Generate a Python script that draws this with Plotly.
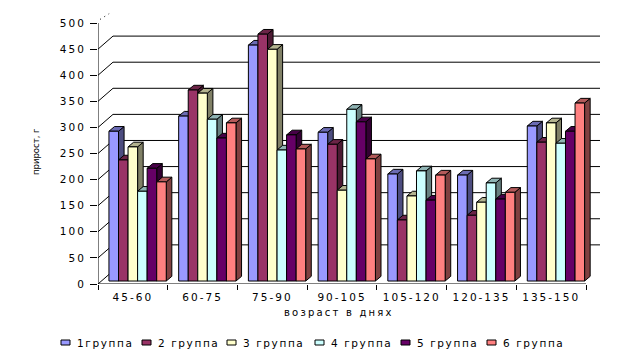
import plotly.graph_objects as go

categories = ["45-60", "60-75", "75-90", "90-105", "105-120", "120-135", "135-150"]
group_names = ["1группа", "2 группа", "3 группа", "4 группа", "5 группа", "6 группа"]
group1 = [287, 316, 452, 285, 205, 203, 297]
group2 = [232, 366, 473, 262, 117, 126, 266]
group3 = [257, 360, 444, 174, 163, 151, 303]
group4 = [172, 310, 251, 329, 211, 188, 264]
group5 = [216, 274, 280, 305, 155, 157, 287]
group6 = [190, 303, 253, 234, 203, 170, 341]
series = [group1, group2, group3, group4, group5, group6]
y_ticks = [0, 50, 100, 150, 200, 250, 300, 350, 400, 450, 500]

front_colors = ["#9999FF", "#993366", "#FFFFCC", "#CCFFFF", "#660066", "#FF8080"]
side_colors = ["#4D4D80", "#4D1A33", "#808066", "#668080", "#330033", "#804040"]
top_colors = ["#6B6BB3", "#6B2447", "#B3B38F", "#8FB3B3", "#470047", "#B35A5A"]

FONT = "DejaVu Sans"
BAR_W, BAR_START = 0.137, 0.157
BASE = 5.7
DX, DY = 0.08, 9.0
BACK_X, BACK_Y = 0.215, 25.0
X_END = 7.2
OFF = 8  # page body margin
W, H = 625 - OFF, 356 - OFF
ML, MR, MT, MB = 98 - OFF, 25, 10 - OFF, 72
PW, PH = W - ML - MR, H - MT - MB


def wide(text, spacing):
    return f"<span style='letter-spacing:{spacing}px'>{text}</span>"


def px(x):
    return (x - OFF - ML) / PW


def py(y):
    return 1 - (y - OFF - MT) / PH


fig = go.Figure()
line_style = dict(color="black", width=1)

for v in y_ticks[1:-1]:
    fig.add_trace(go.Scatter(x=[0, BACK_X, X_END], y=[v, v + BACK_Y, v + BACK_Y], mode="lines",
                             line=line_style, showlegend=False, hoverinfo="skip"))
fig.add_trace(go.Scatter(x=[0, BACK_X], y=[0, BACK_Y], mode="lines",
                         line=line_style, showlegend=False, hoverinfo="skip"))
fig.add_trace(go.Scatter(x=[0.03, 0.16], y=[507, 500 + 0.72 * BACK_Y], mode="lines",
                         line=dict(color="black", width=1, dash="1px,4px"), showlegend=False, hoverinfo="skip"))
fig.add_trace(go.Scatter(x=[0, 0], y=[0, 500], mode="lines", line=line_style,
                         showlegend=False, hoverinfo="skip"))
fig.add_trace(go.Scatter(x=[0, 7], y=[0, 0], mode="lines", line=line_style,
                         showlegend=False, hoverinfo="skip", cliponaxis=False))

for s, vals in enumerate(series):
    sx, sy, tx, ty, fx, fy = [], [], [], [], [], []
    for c, v in enumerate(vals):
        x0 = c + BAR_START + s * BAR_W
        x1 = x0 + BAR_W
        top = BASE + v
        sx += [x1, x1 + DX, x1 + DX, x1, x1, None]
        sy += [BASE, BASE + DY, top + DY, top, BASE, None]
        tx += [x0, x1, x1 + DX, x0 + DX, x0, None]
        ty += [top, top, top + DY, top + DY, top, None]
        fx += [x0, x1, x1, x0, x0, None]
        fy += [BASE, BASE, top, top, BASE, None]
    for xs, ys, col in [(sx, sy, side_colors[s]), (tx, ty, top_colors[s]), (fx, fy, front_colors[s])]:
        fig.add_trace(go.Scatter(x=xs, y=ys, mode="lines", fill="toself", fillcolor=col,
                                 line=line_style, name=group_names[s], showlegend=False,
                                 hoverinfo="skip"))

legend_swatch_x = [61, 142, 227, 315, 401, 487]
shapes = []
annotations = []
for name, sx, col in zip(group_names, legend_swatch_x, front_colors):
    shapes.append(dict(type="rect", xref="paper", yref="paper",
                       x0=px(sx), x1=px(sx + 9), y0=py(345), y1=py(340),
                       fillcolor=col, line=dict(color="black", width=1)))
    annotations.append(dict(xref="paper", yref="paper", x=px(sx + 14), y=py(343),
                            xanchor="left", yanchor="middle", showarrow=False,
                            text=wide(name, 1.6), font=dict(family=FONT, size=10.5, color="black")))

annotations.append(dict(xref="paper", yref="paper", x=px(339), y=py(312),
                        xanchor="center", yanchor="middle", showarrow=False,
                        text=wide("возраст в днях", 2.2), font=dict(family=FONT, size=10, color="black")))
annotations.append(dict(xref="paper", yref="paper", x=px(36), y=py(152),
                        xanchor="center", yanchor="middle", showarrow=False, textangle=-90,
                        text="прирост, г", font=dict(family=FONT, size=8.5, color="black")))

fig.update_layout(
    width=W, height=H,
    margin=dict(l=ML, r=MR, t=MT, b=MB, pad=0, autoexpand=False),
    paper_bgcolor="white", plot_bgcolor="white",
    font=dict(family=FONT, size=10.5, color="black"),
    showlegend=False,
    shapes=shapes,
    annotations=annotations,
    xaxis=dict(range=[0, X_END], showgrid=False, zeroline=False, showline=False, automargin=False,
               tickvals=[i + 0.5 for i in range(len(categories))],
               ticktext=[wide(c, 2.0) for c in categories],
               ticks="", tickangle=0, tickfont=dict(family=FONT, size=10.5), ticklabelstandoff=5,
               minor=dict(tickvals=list(range(len(categories) + 1)), ticks="outside",
                          ticklen=5, tickcolor="black", tickwidth=1, showgrid=False)),
    yaxis=dict(range=[0, 525], showgrid=False, zeroline=False, showline=False, automargin=False,
               tickvals=y_ticks, ticktext=[wide(t, 2.0) for t in y_ticks],
               ticks="outside", ticklen=7, tickcolor="black", tickwidth=1,
               tickfont=dict(family=FONT, size=10.5), ticklabelstandoff=2),
)
fig.write_html("out.html")
